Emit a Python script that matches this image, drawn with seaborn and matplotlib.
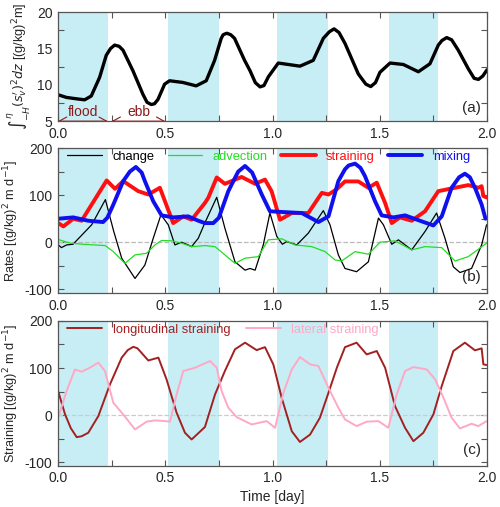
import numpy as np
import pandas as pd
import matplotlib
matplotlib.use("Agg")
import matplotlib.pyplot as plt
import seaborn as sns

# ---------------- data ----------------
flood_bands = [(0.0, 0.232), (0.511, 0.75), (1.022, 1.259), (1.543, 1.77)]

var_t = [0.0, 0.039, 0.085, 0.124, 0.155, 0.194, 0.225, 0.245, 0.264, 0.285, 0.303, 0.349,
         0.396, 0.415, 0.435, 0.45, 0.466, 0.497, 0.52, 0.582, 0.644, 0.691, 0.73, 0.761,
         0.77, 0.787, 0.805, 0.823, 0.87, 0.895, 0.92, 0.942, 0.96, 0.981, 1.027, 1.128,
         1.19, 1.237, 1.265, 1.287, 1.31, 1.338, 1.4, 1.435, 1.458, 1.48, 1.501, 1.548,
         1.61, 1.68, 1.734, 1.773, 1.79, 1.812, 1.835, 1.866, 1.913, 1.94, 1.96, 1.98, 2.0]
var_v = [8.64, 8.27, 8.08, 7.94, 8.46, 11.03, 14.07, 15.0, 15.47, 15.3, 14.77, 11.96,
         8.69, 7.6, 7.29, 7.4, 7.99, 10.09, 10.56, 10.33, 9.86, 10.56, 13.36, 16.4,
         16.9, 17.1, 16.9, 16.4, 13.36, 11.96, 10.3, 9.72, 9.9, 11.12, 13.0, 12.57,
         13.37, 16.4, 17.3, 17.7, 17.2, 15.7, 11.5, 10.1, 9.76, 10.3, 11.73, 13.0,
         12.8, 11.8, 12.9, 15.47, 16.1, 16.5, 16.2, 14.77, 12.2, 10.9, 10.75, 11.2, 12.06]

change_t = [0.0016, 0.016, 0.04, 0.07, 0.157, 0.221, 0.26, 0.297, 0.359, 0.405, 0.444, 0.48,
            0.514, 0.545, 0.576, 0.599, 0.623, 0.654, 0.686, 0.686, 0.74, 0.778, 0.825, 0.872,
            0.895, 0.919, 0.957, 0.988, 1.02, 1.046, 1.066, 1.113, 1.167, 1.237, 1.268,
            1.307, 1.338, 1.392, 1.447, 1.494, 1.517, 1.556, 1.587, 1.649, 1.711, 1.765,
            1.804, 1.843, 1.874, 1.928, 1.975, 1.998]
change_v = [-5.8, -11.5, -5.8, -4.4, 37, 90.5, 22.7, -34, -77, -48.6, 8.4, 58.3,
            37, -5.8, 0, -4.4, -9.4, 8.4, 40.6, 44.2, 95.4, 29.8, -41.6, -59.4,
            -55.8, -59.4, -5.8, 62, 12.3, -4.4, 1.4, -5.8, 19.3, 67.1, 37,
            -27, -55.8, -62.7, -41.6, 51.3, 37, -4.4, 5, -16.3, 22.7, 62,
            8.4, -52.3, -64.4, -55.8, -5.8, 37]

adv_t = [0.0016, 0.057, 0.12, 0.22, 0.258, 0.312, 0.359, 0.413, 0.452, 0.483, 0.53, 0.576,
         0.623, 0.685, 0.732, 0.778, 0.825, 0.872, 0.934, 0.98, 1.043, 1.105, 1.183, 1.245,
         1.292, 1.322, 1.385, 1.447, 1.501, 1.571, 1.649, 1.711, 1.789, 1.851, 1.913, 1.998]
adv_v = [5.7, -2, -4.4, -7.2, -20, -45, -27, -23.6, -5.8, 3.6, 2.9, -2,
         -9.4, -7.2, -9.4, -27, -45, -34, -30.6, 5, 7.2, -5.8, -9.4, -20,
         -37.7, -40, -20, -25.5, 0, 2.9, -16.3, -9.4, -11.5, -40, -30.6, -2]

strain_t = [0.0016, 0.025, 0.071, 0.11, 0.227, 0.266, 0.304, 0.374, 0.421, 0.475, 0.537,
            0.584, 0.623, 0.685, 0.701, 0.74, 0.778, 0.856, 0.919, 0.965, 0.996, 1.035,
            1.09, 1.167, 1.23, 1.261, 1.3, 1.338, 1.4, 1.447, 1.486, 1.525, 1.556, 1.594,
            1.649, 1.711, 1.773, 1.835, 1.913, 1.96, 1.975, 1.983, 1.998]
strain_v = [40.6, 33.5, 49.9, 45.6, 131.2, 113.4, 129.8, 108.4, 101.3, 115.6, 40.6,
            54.9, 47.7, 83.4, 94.7, 137.5, 124, 138.6, 124, 133, 108, 47.7,
            62, 62, 104.8, 101.3, 112.7, 129.1, 129.1, 115.6, 126.4, 83.4, 40.6, 52.7,
            45.6, 65.7, 108.4, 114.2, 121.3, 115.6, 119, 98, 95]

mix_t = [0.0016, 0.071, 0.141, 0.21, 0.23, 0.258, 0.304, 0.335, 0.363, 0.39, 0.405, 0.444,
         0.483, 0.537, 0.607, 0.654, 0.685, 0.724, 0.75, 0.794, 0.84, 0.872, 0.905, 0.95,
         0.988, 1.043, 1.136, 1.214, 1.261, 1.307, 1.338, 1.355, 1.385, 1.41, 1.431, 1.478,
         1.509, 1.564, 1.618, 1.696, 1.75, 1.789, 1.835, 1.87, 1.897, 1.92, 1.944, 1.975, 1.993]
mix_v = [49.9, 52.7, 45.6, 42.8, 52, 80, 129.8, 150, 159.8, 148, 129.8, 87,
         57, 52.7, 54.9, 45.6, 40.6, 40.6, 52, 108.4, 150, 161.9, 148, 101.3,
         65.7, 64.2, 62, 42.8, 54.9, 129.8, 155, 163, 166.9, 158, 140.5, 87,
         57, 52.7, 57, 44.2, 35.6, 54.9, 115.6, 138, 145.5, 138, 115.6, 80, 49.9]

long_t = [0.0016, 0.033, 0.06, 0.087, 0.11, 0.141, 0.188, 0.242, 0.297, 0.325, 0.351, 0.37,
          0.382, 0.421, 0.468, 0.506, 0.553, 0.592, 0.623, 0.685, 0.732, 0.778, 0.825, 0.872,
          0.926, 0.965, 1.004, 1.043, 1.09, 1.128, 1.175, 1.221, 1.261, 1.3, 1.338, 1.392,
          1.439, 1.486, 1.525, 1.571, 1.618, 1.657, 1.703, 1.75, 1.789, 1.843, 1.897, 1.944,
          1.975, 1.983, 1.998]
long_v = [49.6, 1.4, -28, -46.8, -45, -37.6, -2.1, 65, 122, 138, 145, 142,
          136, 116, 122, 75.9, 5, -37.6, -51.8, -25.3, 43.8, 93.6, 139.7, 153.8,
          138, 144.3, 107.4, 36.4, -34.4, -57.1, -41.5, -5.7, 47.5, 100.6, 144.3, 153.8,
          128.9, 136, 100.6, 19.2, -27, -55.4, -37.6, 1.4, 61.7, 136, 153.8, 137.5,
          141.8, 107.8, 106.4]

lat_t = [0.0016, 0.04, 0.079, 0.11, 0.148, 0.188, 0.219, 0.258, 0.304, 0.359, 0.413,
         0.452, 0.499, 0.522, 0.553, 0.584, 0.639, 0.709, 0.74, 0.763, 0.794, 0.833,
         0.903, 0.973, 1.012, 1.051, 1.09, 1.128, 1.175, 1.214, 1.261, 1.307, 1.338,
         1.392, 1.439, 1.494, 1.54, 1.579, 1.618, 1.657, 1.719, 1.758, 1.797, 1.835,
         1.874, 1.928, 1.96, 1.998]
lat_v = [-4.3, 51, 97, 92, 100.6, 111.3, 93.6, 26, 1.4, -30.5, -14,
         -11.3, -12.8, -14, 44, 93.6, 100.6, 114.8, 100.6, 51, 15.6, -4.3,
         -19.9, -12.8, -27, 47.5, 97, 123.3, 107.8, 104.3, 58, 15.6, -9.2,
         -23.4, -14, -12.8, -27, 44, 93.6, 102.1, 97, 75.9, 36.9, -5.7,
         -28.4, -18.4, -23.4, -12.8]

# ---------------- style ----------------
sns.set_style("ticks")
plt.rcParams["font.family"] = ["Liberation Sans", "DejaVu Sans"]
plt.rcParams["mathtext.fontset"] = "dejavusans"
plt.rcParams["axes.unicode_minus"] = False

BAND = "#c8eef5"
FRAME = "#555555"
C_CHANGE, C_ADV, C_STRAIN, C_MIX = "black", "#22dd22", "#ff1010", "#1010ee"
C_LONG, C_LAT = "#a32020", "#ffa8c5"
C_TIDE = "#8b1a1a"
TICK_FS = 10
LAB_FS = 9.2
LEG_FS = 9.3

fig = plt.figure(figsize=(5.0, 5.07), dpi=100)
L, W = 0.116, 0.858
ax_a = fig.add_axes([L, 0.761, W, 0.215])
ax_b = fig.add_axes([L, 0.422, W, 0.286])
ax_c = fig.add_axes([L, 0.081, W, 0.286])


def style_axis(ax):
    for a, b in flood_bands:
        ax.axvspan(a, b, color=BAND, lw=0, zorder=0)
    ax.set_xlim(0, 2)
    ax.set_xticks([0, 0.5, 1.0, 1.5, 2.0])
    ax.set_xticklabels(["0.0", "0.5", "1.0", "1.5", "2.0"])
    ax.set_xticks([0.25, 0.75, 1.25, 1.75], minor=True)
    ax.tick_params(axis="both", which="both", direction="in", top=True, right=True,
                   color=FRAME, labelsize=TICK_FS, length=4, width=0.8, pad=4)
    ax.tick_params(axis="both", which="minor", length=4)
    for s in ax.spines.values():
        s.set_color(FRAME)
        s.set_linewidth(0.9)
    ax.set_xlabel("")


# ---------- panel a ----------
df_a = pd.DataFrame({"t": var_t, "v": var_v})
sns.lineplot(data=df_a, x="t", y="v", ax=ax_a, color="black", lw=2.4)
style_axis(ax_a)
ax_a.set_ylim(5, 20)
ax_a.set_yticks([5, 10, 15, 20])
ax_a.set_yticks([7.5, 12.5, 17.5], minor=True)
ax_a.tick_params(axis="y", which="major", length=0)
ax_a.set_ylabel(r"$\int_{-H}^{\eta}(s_v^{\prime})^2dz$ [(g/kg)$^2$m]", fontsize=LAB_FS, labelpad=3)
ax_a.text(0.985, 0.06, "(a)", transform=ax_a.transAxes, ha="right", va="bottom", fontsize=11)
for (x0, x1, lab) in [(0.0, 0.232, "flood"), (0.25, 0.5, "ebb")]:
    ann = ax_a.annotate("", xy=(x0, 5.0), xytext=(x1, 5.0),
                        arrowprops=dict(arrowstyle="<->,head_length=0.55,head_width=0.3",
                                        color=C_TIDE, lw=0.8, shrinkA=0, shrinkB=0))
    ann.arrow_patch.set_clip_path(ax_a.patch)
    ax_a.text((x0 + x1) / 2, 5.25, lab, ha="center", va="bottom", color=C_TIDE, fontsize=10)

# ---------- panel b ----------
df_change = pd.DataFrame({"t": change_t, "v": change_v})
df_adv = pd.DataFrame({"t": adv_t, "v": adv_v})
df_strain = pd.DataFrame({"t": strain_t, "v": strain_v})
df_mix = pd.DataFrame({"t": mix_t, "v": mix_v})
ax_b.axhline(0, color="#bbbbbb", ls="--", lw=0.9, zorder=1)
sns.lineplot(data=df_change, x="t", y="v", ax=ax_b, color=C_CHANGE, lw=0.9, label="change")
sns.lineplot(data=df_adv, x="t", y="v", ax=ax_b, color=C_ADV, lw=0.9, label="advection")
sns.lineplot(data=df_strain, x="t", y="v", ax=ax_b, color=C_STRAIN, lw=2.8, label="straining")
sns.lineplot(data=df_mix, x="t", y="v", ax=ax_b, color=C_MIX, lw=2.8, label="mixing")
style_axis(ax_b)
ax_b.set_ylim(-108, 200)
ax_b.set_yticks([-100, 0, 100, 200])
ax_b.set_yticks([-50, 50, 150], minor=True)
ax_b.set_ylabel(r"Rates [(g/kg)$^2$ m d$^{-1}$]", fontsize=LAB_FS, labelpad=3)
ax_b.text(0.985, 0.06, "(b)", transform=ax_b.transAxes, ha="right", va="bottom", fontsize=11)
leg = ax_b.legend(loc="upper left", bbox_to_anchor=(-0.005, 1.06), ncol=4, frameon=False,
                  fontsize=LEG_FS, handlelength=2.7, columnspacing=1.0, handletextpad=0.8)
for txt, c in zip(leg.get_texts(), [C_CHANGE, C_ADV, C_STRAIN, C_MIX]):
    txt.set_color(c)

# ---------- panel c ----------
df_long = pd.DataFrame({"t": long_t, "v": long_v})
df_lat = pd.DataFrame({"t": lat_t, "v": lat_v})
ax_c.axhline(0, color="#cccccc", ls="--", lw=0.9, zorder=1)
sns.lineplot(data=df_long, x="t", y="v", ax=ax_c, color=C_LONG, lw=1.4, label="longitudinal straining")
sns.lineplot(data=df_lat, x="t", y="v", ax=ax_c, color=C_LAT, lw=1.4, label="lateral straining")
style_axis(ax_c)
ax_c.set_ylim(-108, 200)
ax_c.set_yticks([-100, 0, 100, 200])
ax_c.set_yticks([-50, 50, 150], minor=True)
ax_c.set_ylabel(r"Straining [(g/kg)$^2$ m d$^{-1}$]", fontsize=LAB_FS, labelpad=3)
ax_c.set_xlabel("Time [day]", fontsize=10, labelpad=3)
ax_c.text(0.985, 0.06, "(c)", transform=ax_c.transAxes, ha="right", va="bottom", fontsize=11)
leg = ax_c.legend(loc="upper left", bbox_to_anchor=(-0.005, 1.06), ncol=2, frameon=False,
                  fontsize=LEG_FS, handlelength=2.7, columnspacing=1.2, handletextpad=0.8)
for txt, c in zip(leg.get_texts(), [C_LONG, C_LAT]):
    txt.set_color(c)

fig.savefig("out.png", dpi=100)
